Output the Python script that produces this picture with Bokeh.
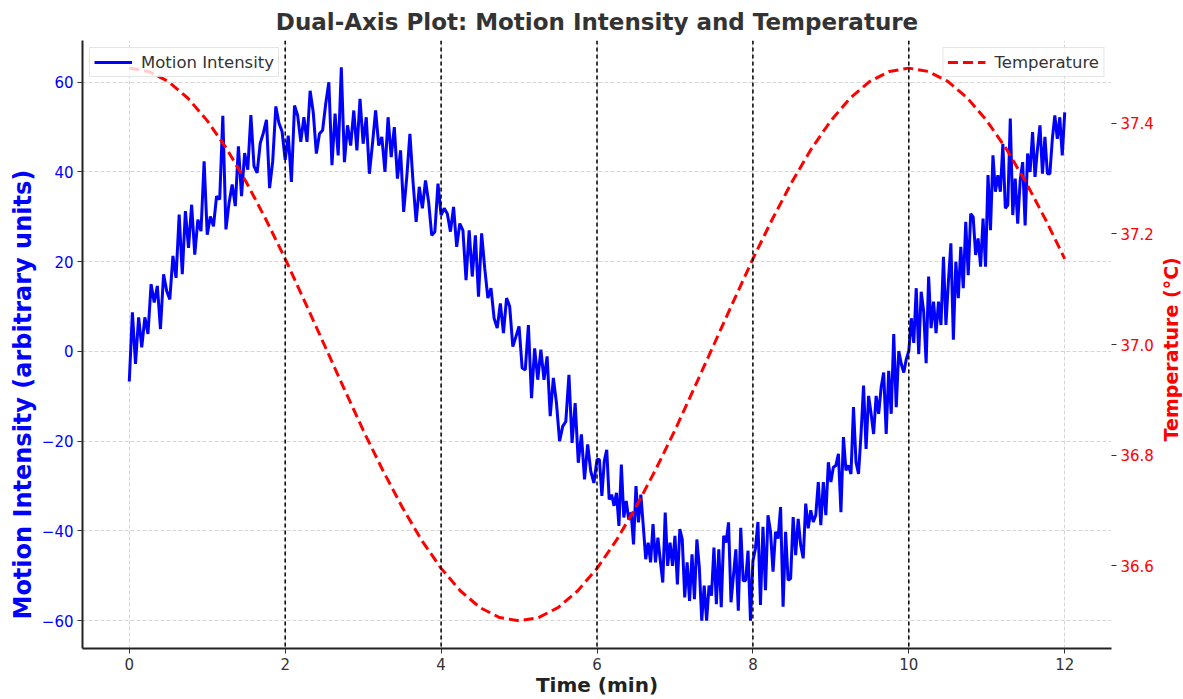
import numpy as np
from bokeh.plotting import figure
from bokeh.layouts import row
from bokeh.models import (Range1d, LinearAxis, FixedTicker, PrintfTickFormatter,
                          Span, Legend, LegendItem, ColumnDataSource, Title)
from bokeh.core.properties import value
from bokeh.embed import file_html
from bokeh.resources import INLINE

# ---------------- data ----------------
segment_bounds = [0, 2, 4, 6, 8, 10, 12]

motion_seg1 = [-6.7, 8.7, -2.8, 7.6, 0.9, 7.6, 3.9, 15, 10.9, 14.6, 5, 17.2, 13.5, 11.6,
               21.3, 16.4, 30.5, 17.2, 31.3, 23.1, 32.7, 21.6, 29.4, 26.8, 42.4, 26, 30.1,
               27.9, 34.6, 33.9, 52.5, 27.2, 33.1, 37.2, 32.4, 45.7, 34.6, 44.2, 40.5, 52.7,
               41.3, 39.8, 46.4, 48.7, 51.6, 36.4, 42.4, 54.6, 50.9, 49, 42.7]
motion_seg2 = [48.1, 37.8, 54.8, 52.6, 46.7, 52.2, 46.7, 58.1, 53.3, 44.1, 48.5, 49.3, 55.2,
               60, 41.5, 53, 43.7, 63.3, 42.2, 50.4, 45.9, 53.7, 44.8, 56.3, 46.3, 52.2, 39.6,
               46.3, 53.7, 45.9, 47.8, 40, 52.2, 43.3, 50, 38.5, 44.8, 31.1, 38.9, 48.5, 37.8,
               28.9, 36.7, 31.9, 38.1, 33.3, 25.9, 26.7, 37.4, 30.4]
motion_seg3 = [31.9, 30.7, 26.7, 32.2, 23.3, 28.5, 27, 15.9, 27, 16.7, 25.9, 12.2, 26.3, 18.5,
               11.9, 14.1, 7.4, 5.2, 10.7, 4.1, 11.9, 10, 1.1, 3.3, 5.6, -3.7, -4.1, 5.9, -10.4,
               0.7, -6.3, 0.4, -6.3, -1.1, -14.4, -5.9, -11.5, -20, -16.7, -15.6, -5.2, -20.4,
               -11.5, -24.8, -18.5, -28.5, -20.7, -26.7, -29.3, -24.1]
motion_seg4 = [-24.1, -32.2, -24.4, -21.9, -33, -31.9, -34.4, -31.5, -38.9, -25.2, -37, -33.3,
               -37.4, -35.9, -43, -30, -38.1, -31.9, -38.9, -46.3, -42.6, -47, -38.5, -47, -41.5,
               -46.7, -51.5, -35.9, -47.8, -42.6, -47.8, -41.1, -51.9, -39.6, -41.9, -54.8, -47,
               -55.6, -45.2, -55.2, -41.9, -48.1, -60, -52.2, -60, -52.2, -54.4, -43.7, -56.3,
               -44.1, -57, -41.1, -42.6, -38.1, -55.9, -50, -44.1, -57.8, -39.3, -51.1, -51.1,
               -44.4, -60, -46.7]
motion_seg5 = [-43.9, -38, -56.5, -39.1, -53.2, -36.5, -40.2, -49.1, -40.2, -41.7, -34.7, -56.9,
               -40.2, -51, -50.6, -36.9, -45.4, -37.3, -43.2, -46.1, -33.9, -39.4, -35.4, -38,
               -36.5, -29.1, -38.7, -29.1, -36.5, -24.7, -29.1, -25.8, -25.4, -22.8, -35.8, -19.1,
               -26.5, -25.4, -27.3, -12.4, -24.7, -27.3, -18.4, -7.6, -21.7, -9.9, -13.9, -18.4,
               -9.9, -13.9, -8, -4.7, -18.4, -4.3, -13.9, 3.9, -12.4, 0.1, -2.8, -4.7, -1.7, 0.1]
motion_seg6 = [7.4, 1.9, 14.1, -0.6, 13.3, 8.9, -2.6, 16.7, 5.2, 11.1, 4.1, 11.1, 5.9, 21.1, 5.9,
               15.6, 24.1, 2.6, 20, 11.9, 23.3, 14.1, 28.9, 17, 30.7, 30, 21.5, 25.2, 18.9, 29.6,
               18.9, 39.3, 27, 43.7, 35.6, 39.3, 35.6, 46.3, 31.9, 32.6, 51.9, 30.4, 38.5, 28.5,
               38.1, 42.2, 28.1, 44.1, 40, 48.9, 38.9, 45.2, 50.4, 39.6, 47.8, 39.6, 39.6, 47.4,
               52.6, 47.4, 52.2, 43.7, 53.3]

temperature = [37.500, 37.494, 37.476, 37.446, 37.405, 37.354, 37.294, 37.227, 37.155, 37.078,
               37.000, 36.922, 36.845, 36.773, 36.706, 36.646, 36.595, 36.554, 36.524, 36.506,
               36.500, 36.506, 36.524, 36.554, 36.595, 36.646, 36.706, 36.773, 36.845, 36.922,
               37.000, 37.078, 37.155, 37.227, 37.294, 37.354, 37.405, 37.446, 37.476, 37.494,
               37.500, 37.494, 37.476, 37.446, 37.405, 37.354, 37.294, 37.227, 37.155]

marker_times = [2, 4, 6, 8, 10]
x_ticks = [0, 2, 4, 6, 8, 10, 12]
left_ticks = [-60, -40, -20, 0, 20, 40, 60]
right_ticks = [36.6, 36.8, 37.0, 37.2, 37.4]

# sample times for the motion series (segment by segment)
segs = [motion_seg1, motion_seg2, motion_seg3, motion_seg4, motion_seg5, motion_seg6]
motion_t, motion_v = [], []
for i, s in enumerate(segs):
    if i == 0:
        tt = np.linspace(segment_bounds[0], segment_bounds[1], len(s))
    else:
        tt = np.linspace(segment_bounds[i], segment_bounds[i + 1], len(s) + 1)[1:]
    motion_t.extend(tt.tolist())
    motion_v.extend(s)
temp_t = np.linspace(0, 12, len(temperature)).tolist()

# ---------------- figure ----------------
FONT = "DejaVu Sans"
MAIN_W = 1158
p = figure(width=MAIN_W, height=699, output_backend="svg", toolbar_location=None,
           x_range=Range1d(-0.6, 12.6), y_range=Range1d(-66.2, 69.3),
           min_border_left=82, min_border_right=MAIN_W - 1111,
           min_border_top=40, min_border_bottom=50)
p.outline_line_color = None
p.background_fill_color = "white"
p.border_fill_color = "white"

p.title.text = "Dual-Axis Plot: Motion Intensity and Temperature"
p.title.align = "center"
p.title.text_font = FONT
p.title.text_font_size = "23px"
p.title.text_font_style = "bold"
p.title.text_color = "#333333"
p.title.standoff = 11

p.extra_y_ranges = {"temp": Range1d(36.45, 37.55)}

# grid
for g in (p.xgrid, p.ygrid):
    g.grid_line_color = "#cccccc"
    g.grid_line_dash = "4 2"
    g.grid_line_width = 0.8
p.xgrid.ticker = FixedTicker(ticks=x_ticks)
p.ygrid.ticker = FixedTicker(ticks=left_ticks)

def style_axis(ax, color):
    ax.major_label_text_font = FONT
    ax.major_label_text_font_size = "15px"
    ax.major_label_text_color = color
    ax.major_tick_out = 5
    ax.major_tick_in = 0
    ax.minor_tick_out = 0
    ax.minor_tick_in = 0
    ax.major_tick_line_color = "#333333"
    ax.major_label_standoff = 4

# x axis
xa = p.xaxis[0]
xa.ticker = FixedTicker(ticks=x_ticks)
style_axis(xa, "#333333")
xa.axis_label = "Time (min)"
xa.axis_label_text_font = FONT
xa.axis_label_text_font_size = "20px"
xa.axis_label_text_font_style = "bold"
xa.axis_label_text_color = "#222222"
xa.axis_label_standoff = 0
xa.axis_line_width = 2
xa.axis_line_color = "#222222"

# left axis (title placed as a side title so it can be shifted)
ya = p.yaxis[0]
ya.ticker = FixedTicker(ticks=left_ticks)
ya.major_label_overrides = {v: (("\u2212" + str(-v)) if v < 0 else str(v)) for v in left_ticks}
style_axis(ya, "blue")
ya.axis_line_width = 2
ya.axis_line_color = "#222222"
left_title = Title(text="Motion Intensity (arbitrary units)", align="left", offset=29,
                   text_font=FONT, text_font_size="24px", text_font_style="bold",
                   text_color="blue", standoff=4)
p.add_layout(left_title, "left")

# right axis (ticks only; its title sits in a narrow strip to the right)
ra = LinearAxis(y_range_name="temp", ticker=FixedTicker(ticks=right_ticks),
                formatter=PrintfTickFormatter(format="%.1f"))
style_axis(ra, "red")
ra.axis_line_color = None
p.add_layout(ra, "right")

# vertical markers
for t in marker_times:
    p.add_layout(Span(location=t, dimension="height", line_color="black",
                      line_dash="4 3", line_width=1.5))

msrc = ColumnDataSource(dict(t=motion_t, v=motion_v))
tsrc = ColumnDataSource(dict(t=temp_t, v=temperature))
r_motion = p.line("t", "v", source=msrc, line_color="blue", line_width=3)
r_temp = p.line("t", "v", source=tsrc, y_range_name="temp", line_color="red",
                line_width=3, line_dash="10 5")

def style_legend(lg):
    lg.label_text_font = FONT
    lg.label_text_font_size = "16.5px"
    lg.label_text_color = "#333333"
    lg.border_line_color = "#cccccc"
    lg.background_fill_alpha = 0.8
    lg.glyph_width = 38
    lg.glyph_height = 20
    lg.padding = 4
    lg.margin = 7
    lg.label_standoff = 9
    lg.label_height = 20

lg1 = Legend(items=[LegendItem(label="Motion Intensity", renderers=[r_motion])],
             location="top_left")
lg2 = Legend(items=[LegendItem(label="Temperature", renderers=[r_temp])],
             location="top_right")
style_legend(lg1)
style_legend(lg2)
p.add_layout(lg1)
p.add_layout(lg2)

# narrow strip holding the right-hand axis title (reads bottom-to-top)
STRIP_W = 1183 - MAIN_W
q = figure(width=STRIP_W, height=699, output_backend="svg", toolbar_location=None,
           x_range=Range1d(0, STRIP_W), y_range=Range1d(0, 699),
           min_border=0, x_axis_type=None, y_axis_type=None)
q.outline_line_color = None
q.grid.visible = False
q.text(x=[1170 - MAIN_W], y=[699 - 355], text=["Temperature (\u00b0C)"], angle=np.pi / 2,
       text_font=value(FONT), text_font_size="19px", text_font_style="bold",
       text_color="red", text_align="center", text_baseline="middle")

layout = row(p, q, spacing=0)
open("out.html", "w").write(file_html(layout, INLINE))
